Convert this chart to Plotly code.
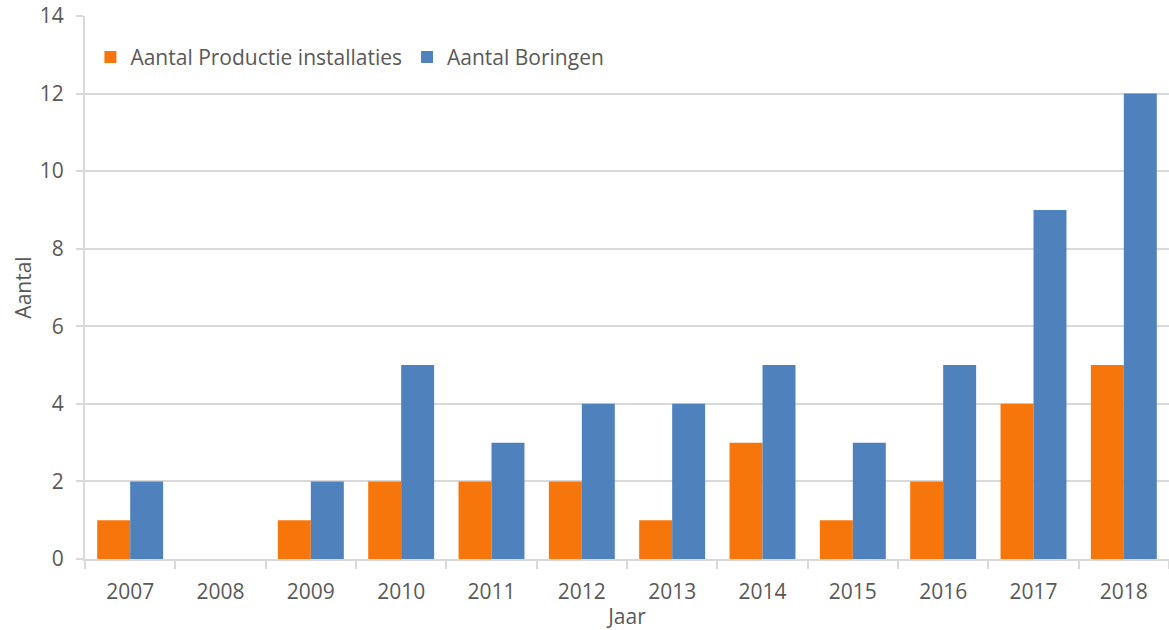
import plotly.graph_objects as go

jaren = ["2007", "2008", "2009", "2010", "2011", "2012",
         "2013", "2014", "2015", "2016", "2017", "2018"]
productie_installaties = [1, 0, 1, 2, 2, 2, 1, 3, 1, 2, 4, 5]
boringen = [2, 0, 2, 5, 3, 4, 4, 5, 3, 5, 9, 12]

oranje = "#F7760B"
blauw = "#4F81BD"
grijs = "#D9D9D9"
tekst = "#595959"
font_naam = "Open Sans"
fs = 21

fig = go.Figure()
fig.add_trace(go.Bar(
    x=jaren, y=productie_installaties, name="Aantal Productie installaties",
    marker=dict(color=oranje, line=dict(width=0)),
))
fig.add_trace(go.Bar(
    x=jaren, y=boringen, name="Aantal Boringen",
    marker=dict(color=blauw, line=dict(width=0)),
))

fig.update_layout(
    width=1169, height=630,
    margin=dict(l=85, r=0, t=16, b=71),
    paper_bgcolor="white", plot_bgcolor="white",
    barmode="group", bargap=0.27, bargroupgap=0,
    font=dict(family=font_naam, size=fs, color=tekst),
    legend=dict(
        orientation="h", x=0.005, y=0.924, xanchor="left", yanchor="middle",
        font=dict(size=fs, color=tekst), bgcolor="rgba(0,0,0,0)",
        itemwidth=30, tracegroupgap=0,
    ),
    xaxis=dict(
        type="category", range=[-0.5, 11.5], automargin=False,
        showgrid=False, showline=True, linecolor=grijs, linewidth=2,
        ticks="outside", tickson="boundaries", ticklen=8, tickcolor=grijs, tickwidth=1.5,
        tickfont=dict(size=fs, color=tekst), ticklabelstandoff=13,
        title=dict(text="Jaar", font=dict(size=fs, color=tekst), standoff=12),
    ),
    yaxis=dict(
        range=[0, 14], dtick=2, automargin=False,
        showgrid=True, gridcolor=grijs, gridwidth=1.5,
        showline=True, linecolor=grijs, linewidth=2,
        ticks="outside", ticklen=7, tickcolor=grijs, tickwidth=1.5,
        tickfont=dict(size=fs, color=tekst), ticklabelstandoff=8,
        zeroline=False,
        title=dict(text="Aantal", font=dict(size=fs, color=tekst), standoff=2),
    ),
)

fig.write_html("out.html")
